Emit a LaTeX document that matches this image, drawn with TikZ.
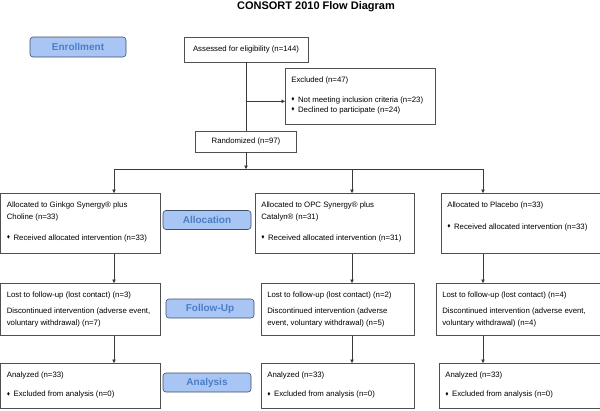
\documentclass[tikz,border=0pt]{standalone}
\usepackage{fontspec}
\setmainfont{Liberation Sans}
\usepackage{amssymb}
\usetikzlibrary{arrows.meta, positioning, calc}
\definecolor{stagefill}{HTML}{A9C5F3}
\definecolor{stagetext}{HTML}{4A7EC7}
\definecolor{stagedraw}{HTML}{3D4F6B}
\definecolor{boxdraw}{HTML}{505050}
\definecolor{flowline}{HTML}{3A3A3A}
\tikzset{heading/.style={font=\fontsize{11}{13}\selectfont\bfseries}}
\tikzset{stage/.style={draw=stagedraw, fill=stagefill, rounded corners=3pt, text=stagetext, font=\fontsize{10}{12}\selectfont\bfseries, minimum width=88pt, minimum height=19pt, inner sep=0pt, line width=0.6pt}}
\tikzset{centrebox/.style={draw=boxdraw, line width=0.6pt, font=\fontsize{7.8}{9}\selectfont, inner sep=0pt}}
\tikzset{textbox/.style={draw=boxdraw, line width=0.6pt, anchor=north west, inner sep=0pt, font=\fontsize{7.8}{12}\selectfont}}
\tikzset{flow/.style={draw=flowline, line width=0.6pt, -{Triangle[length=3.5pt, width=3.5pt]}}}
\tikzset{line/.style={draw=flowline, line width=0.6pt}}
% box text: width, height, first baseline, lines
\newcommand{\boxtext}[4]{\begin{minipage}[t][#2][t]{#1}\leftskip=6pt\rightskip=0pt plus 1fil\relax\rule{0pt}{#3}#4\end{minipage}}
\newcommand{\bul}{\raisebox{0.35ex}{\scalebox{0.55}{$\blacklozenge$}}\hspace{3.5pt}}

\begin{document}
\begin{tikzpicture}[x=1pt, y=-1pt]
\useasboundingbox (0,0) rectangle (600,410);
\node[heading] (title) at (316,7) {CONSORT 2010 Flow Diagram};

% stages
\node[stage, minimum width=96pt, minimum height=20pt] (enrollment) at (78,47) {Enrollment};
\node[stage] (allocation) at (207,220) {Allocation};
\node[stage] (followup) at (210,308.5) {Follow-Up};
\node[stage] (analysis) at (207,382.5) {Analysis};

% enrollment
\node[centrebox, minimum width=124pt, minimum height=25pt] (assessed) at (246,49.5) {Assessed for eligibility (n=144)};
\node[textbox] (excluded) at (285,68) {\boxtext{150pt}{56pt}{13.7pt}{Excluded (n=47)\\[8pt]
  \bul Not meeting inclusion criteria (n=23)\\[-2pt]
  \bul Declined to participate (n=24)}};
\node[centrebox, minimum width=101pt, minimum height=21pt] (randomized) at (246,141.5) {Randomized (n=97)};
\coordinate (split) at (246,169);
\coordinate (branch_ginkgo) at (114,169);
\coordinate (branch_opc) at (352,169);
\coordinate (branch_placebo) at (483,169);

% allocation
\node[textbox] (alloc_ginkgo) at (0.5,193) {\boxtext{159.5pt}{60pt}{13.7pt}{Allocated to Ginkgo Synergy\textregistered{} plus\\
  Choline (n=33)\\[9pt]
  \bul Received allocated intervention (n=33)}};
\node[textbox] (alloc_opc) at (255,193) {\boxtext{159pt}{60pt}{13.7pt}{Allocated to OPC Synergy\textregistered{} plus\\
  Catalyn\textregistered{} (n=31)\\[9pt]
  \bul Received allocated intervention (n=31)}};
\node[textbox] (alloc_placebo) at (441,193) {\boxtext{158.5pt}{60pt}{13.7pt}{Allocated to Placebo (n=33)\\[10pt]
  \bul Received allocated intervention (n=33)}};

% follow-up
\node[textbox] (lost_ginkgo) at (0.5,283) {\boxtext{159.5pt}{52pt}{14.5pt}{Lost to follow-up (lost contact) (n=3)\\[4pt]
  Discontinued intervention (adverse event,\\
  voluntary withdrawal) (n=7)}};
\node[textbox] (lost_opc) at (261,283) {\boxtext{153pt}{52pt}{14.5pt}{Lost to follow-up (lost contact) (n=2)\\[4pt]
  Discontinued intervention (adverse\\
  event, voluntary withdrawal) (n=5)}};
\node[textbox] (lost_placebo) at (436,283) {\boxtext{163.5pt}{52pt}{14.5pt}{Lost to follow-up (lost contact) (n=4)\\[4pt]
  Discontinued intervention (adverse event,\\
  voluntary withdrawal) (n=4)}};

% analysis
\node[textbox] (analysed_ginkgo) at (0.5,363) {\boxtext{159.5pt}{45pt}{14.3pt}{Analyzed (n=33)\\[7pt]
  \bul Excluded from analysis (n=0)}};
\node[textbox] (analysed_opc) at (261,363) {\boxtext{153pt}{45pt}{14.3pt}{Analyzed (n=33)\\[7pt]
  \bul Excluded from analysis (n=0)}};
\node[textbox] (analysed_placebo) at (439,363) {\boxtext{160.5pt}{45pt}{14.3pt}{Analyzed (n=33)\\[7pt]
  \bul Excluded from analysis (n=0)}};

\draw[line] (assessed) -- (randomized);
\draw[flow] ([yshift=-5pt]excluded.west -| assessed.south) -- ([yshift=-5pt]excluded.west);
\draw[flow] (randomized) -- (split);
\draw[line] (branch_ginkgo) -- (branch_placebo);
\draw[flow] (branch_ginkgo) -- (branch_ginkgo |- alloc_ginkgo.north);
\draw[flow] (branch_opc) -- (branch_opc |- alloc_opc.north);
\draw[flow] (branch_placebo) -- (branch_placebo |- alloc_placebo.north);
\draw[flow] (branch_ginkgo |- alloc_ginkgo.south) -- (branch_ginkgo |- lost_ginkgo.north);
\draw[flow] (branch_opc |- alloc_opc.south) -- (branch_opc |- lost_opc.north);
\draw[flow] (branch_placebo |- alloc_placebo.south) -- (branch_placebo |- lost_placebo.north);
\draw[flow] (branch_ginkgo |- lost_ginkgo.south) -- (branch_ginkgo |- analysed_ginkgo.north);
\draw[flow] (branch_opc |- lost_opc.south) -- (branch_opc |- analysed_opc.north);
\draw[flow] (branch_placebo |- lost_placebo.south) -- (branch_placebo |- analysed_placebo.north);
\end{tikzpicture}
\end{document}
